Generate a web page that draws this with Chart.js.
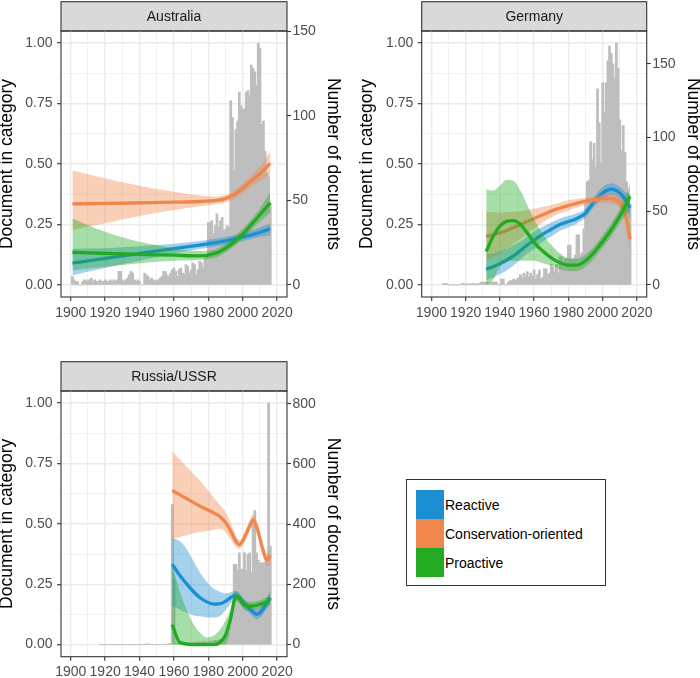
<!DOCTYPE html>
<html>
<head>
<meta charset="utf-8">
<script src="https://cdn.jsdelivr.net/npm/chart.js@4.4.1/dist/chart.umd.min.js"></script>
<style>
html,body{margin:0;padding:0;background:#fff;width:700px;height:678px;overflow:hidden;}
canvas{position:absolute;}
#legend{position:absolute;left:406px;top:479px;width:198px;height:105px;border:1px solid #333;background:#fff;
  font-family:"Liberation Sans",Arial,Helvetica,sans-serif;font-size:14px;color:#000;}
.row{position:absolute;left:9px;height:29px;display:flex;align-items:center;white-space:nowrap;}
.sw{width:28px;height:29px;margin-right:1px;}
</style>
</head>
<body>
<canvas id="cA" width="350" height="330" style="left:0;top:0"></canvas>
<canvas id="cB" width="350" height="330" style="left:350px;top:0"></canvas>
<canvas id="cC" width="350" height="338" style="left:0;top:340px"></canvas>
<div id="legend"></div>
<script>
// ---------- categories / ticks ----------
const seriesNames = ['Reactive', 'Conservation-oriented', 'Proactive'];
const panelNames = ['Australia', 'Germany', 'Russia/USSR'];
const xTickYears = [1900, 1920, 1940, 1960, 1980, 2000, 2020];
const xMinorYears = [1910, 1930, 1950, 1970, 1990, 2010];
const yTickValues = [0, 0.25, 0.5, 0.75, 1];
const yMinorValues = [0.125, 0.375, 0.625, 0.875];
const ausCountTicks = [0, 50, 100, 150];
const gerCountTicks = [0, 50, 100, 150];
const rusCountTicks = [0, 200, 400, 600, 800];

// ---------- Australia ----------
const ausCountStart = 1901;
const ausCounts = [5,3,2,2,0,0,2,3,2,3, 3,4,2,3,2,2,3,2,2,3, 2,2,3,2,3,2,3,8,8,3,
  2,3,4,6,8,7,3,2,3,2, 0,0,7,6,5,3,4,3,2,3, 3,4,5,8,8,6,5,7,9,10,
  8,5,9,10,7,6,12,11,7,9, 13,12,6,9,14,13,10,16,17,37, 37,38,30,35,42,34,38,40,32,33,
  35,34,109,99,68,92,97,114,106,104, 104,114,115,112,130,128,126,118,143,140, 95,97,79,66,64,48];
const ausYears = [1901, 1920, 1940, 1960, 1975, 1985, 1990, 1995, 2000, 2005, 2010, 2016];
const ausReactive   = [0.09, 0.11, 0.13, 0.15, 0.165, 0.176, 0.182, 0.19, 0.198, 0.207, 0.217, 0.232];
const ausReactiveLo = [0.04, 0.07, 0.1, 0.13, 0.148, 0.16, 0.166, 0.174, 0.182, 0.19, 0.198, 0.205];
const ausReactiveHi = [0.15, 0.152, 0.16, 0.17, 0.182, 0.192, 0.198, 0.206, 0.215, 0.225, 0.237, 0.256];
const ausConservation   = [0.335, 0.337, 0.339, 0.342, 0.345, 0.35, 0.357, 0.373, 0.4, 0.43, 0.46, 0.503];
const ausConservationLo = [0.228, 0.255, 0.285, 0.31, 0.325, 0.335, 0.342, 0.356, 0.38, 0.407, 0.43, 0.452];
const ausConservationHi = [0.473, 0.44, 0.41, 0.385, 0.37, 0.366, 0.372, 0.39, 0.42, 0.453, 0.49, 0.552];
const ausProactive   = [0.135, 0.13, 0.126, 0.123, 0.12, 0.133, 0.152, 0.178, 0.21, 0.25, 0.29, 0.34];
const ausProactiveLo = [0.06, 0.075, 0.09, 0.1, 0.103, 0.115, 0.135, 0.16, 0.192, 0.228, 0.262, 0.298];
const ausProactiveHi = [0.275, 0.22, 0.178, 0.152, 0.14, 0.15, 0.17, 0.198, 0.232, 0.272, 0.315, 0.385];

// ---------- Germany ----------
const gerCountStart = 1907;
const gerCounts = [1,1,1,0,0,0,0,0,0,0, 0,1,1,0,1,0,1,1,1,0, 1,1,2,2,2,2,2,1,2,2,
  2,2,0,0,4,4,0,0,2,3, 3,4,3,4,5,7,5,8,6,9, 5,8,6,10,4,7,10,4,5,11,
  11,7,8,14,12,9,14,8,19,19, 12,18,18,27,27,17,18,20,34,34, 20,22,38,56,70,71,97,85,96,80,
  133,110,83,137,117,137,152,162,157,150, 140,164,147,112,91,108,90,70,62,55];
const gerYears = [1932, 1936, 1940, 1944, 1948, 1952, 1956, 1960, 1965, 1970, 1975, 1980, 1985, 1990, 1995, 2000, 2005, 2010, 2013, 2016];
const gerReactive   = [0.065, 0.075, 0.088, 0.103, 0.12, 0.142, 0.165, 0.185, 0.21, 0.23, 0.25, 0.262, 0.275, 0.297, 0.345, 0.38, 0.396, 0.38, 0.355, 0.32];
const gerReactiveLo = [0.02, 0.03, 0.045, 0.06, 0.08, 0.105, 0.13, 0.15, 0.178, 0.2, 0.223, 0.238, 0.254, 0.278, 0.322, 0.355, 0.372, 0.355, 0.325, 0.27];
const gerReactiveHi = [0.13, 0.13, 0.14, 0.15, 0.165, 0.18, 0.2, 0.22, 0.24, 0.258, 0.275, 0.285, 0.296, 0.315, 0.365, 0.405, 0.42, 0.405, 0.385, 0.37];
const gerConservation   = [0.2, 0.207, 0.215, 0.225, 0.237, 0.25, 0.262, 0.275, 0.29, 0.305, 0.318, 0.328, 0.338, 0.346, 0.352, 0.357, 0.357, 0.34, 0.3, 0.19];
const gerConservationLo = [0.1, 0.115, 0.13, 0.15, 0.17, 0.19, 0.213, 0.233, 0.258, 0.28, 0.296, 0.308, 0.32, 0.332, 0.338, 0.34, 0.337, 0.317, 0.26, 0.135];
const gerConservationHi = [0.303, 0.3, 0.298, 0.3, 0.303, 0.305, 0.31, 0.315, 0.322, 0.33, 0.34, 0.35, 0.356, 0.36, 0.368, 0.375, 0.378, 0.365, 0.34, 0.25];
const gerProactive   = [0.138, 0.2, 0.243, 0.263, 0.266, 0.25, 0.215, 0.175, 0.14, 0.112, 0.092, 0.082, 0.082, 0.1, 0.135, 0.18, 0.228, 0.285, 0.322, 0.366];
const gerProactiveLo = [0.0, 0.02, 0.075, 0.095, 0.1, 0.1, 0.1, 0.1, 0.09, 0.08, 0.065, 0.058, 0.058, 0.075, 0.11, 0.155, 0.2, 0.255, 0.285, 0.31];
const gerProactiveHi = [0.395, 0.39, 0.41, 0.435, 0.43, 0.39, 0.33, 0.27, 0.21, 0.165, 0.13, 0.11, 0.108, 0.125, 0.16, 0.205, 0.255, 0.315, 0.36, 0.42];

// ---------- Russia/USSR ----------
const rusCountStart = 1917;
const rusCounts = [2,0,0,0,0,0,0,0,0,0, 0,0,0,0,0,0,0,0,0,0, 0,0,0,0,0,0,0,3,3,0,
  0,0,0,0,0,0,0,2,2,0, 3,4,465,215,5,4,6,5,4,6, 5,7,6,6,8,7,6,9,8,7,
  10,9,8,10,9,12,11,14,12,15, 18,20,24,30,35,40,60,120,267,267,
  250,305,250,250,305,245,300,305,240,420, 445,305,280,272,272,272,272,280,802,327];
const rusYears = [1959, 1963, 1967, 1971, 1975, 1979, 1983, 1987, 1990, 1993, 1996, 1998, 2000, 2003, 2006, 2008, 2010, 2012, 2014, 2016];
const rusReactive   = [0.333, 0.29, 0.255, 0.222, 0.195, 0.177, 0.168, 0.17, 0.18, 0.195, 0.205, 0.195, 0.177, 0.155, 0.135, 0.125, 0.132, 0.15, 0.172, 0.195];
const rusReactiveLo = [0.16, 0.145, 0.133, 0.122, 0.117, 0.113, 0.112, 0.12, 0.142, 0.17, 0.187, 0.177, 0.158, 0.137, 0.115, 0.105, 0.112, 0.128, 0.148, 0.165];
const rusReactiveHi = [0.44, 0.43, 0.4, 0.35, 0.3, 0.26, 0.232, 0.218, 0.212, 0.217, 0.223, 0.213, 0.195, 0.173, 0.153, 0.145, 0.152, 0.172, 0.195, 0.225];
const rusConservation   = [0.638, 0.622, 0.606, 0.59, 0.574, 0.56, 0.546, 0.528, 0.505, 0.47, 0.428, 0.414, 0.43, 0.475, 0.515, 0.49, 0.44, 0.385, 0.35, 0.37];
const rusConservationLo = [0.436, 0.445, 0.452, 0.46, 0.466, 0.47, 0.476, 0.48, 0.465, 0.435, 0.405, 0.397, 0.41, 0.455, 0.49, 0.465, 0.415, 0.36, 0.325, 0.33];
const rusConservationHi = [0.8, 0.77, 0.74, 0.71, 0.68, 0.645, 0.61, 0.575, 0.548, 0.505, 0.452, 0.432, 0.45, 0.497, 0.54, 0.515, 0.465, 0.41, 0.377, 0.405];
const rusProactive   = [0.083, 0.012, 0.003, 0, 0, 0, 0, 0.01, 0.04, 0.11, 0.2, 0.19, 0.17, 0.158, 0.16, 0.163, 0.167, 0.172, 0.178, 0.188];
const rusProactiveLo = [0, 0, 0, 0, 0, 0, 0, 0, 0, 0.07, 0.18, 0.17, 0.15, 0.14, 0.143, 0.146, 0.15, 0.155, 0.16, 0.168];
const rusProactiveHi = [0.33, 0.23, 0.15, 0.09, 0.05, 0.03, 0.037, 0.065, 0.1, 0.15, 0.22, 0.21, 0.19, 0.176, 0.177, 0.18, 0.184, 0.19, 0.197, 0.21];

// ---------- styling ----------
const FONT = '"Liberation Sans", Arial, Helvetica, sans-serif';
const seriesColors = ['#1b8fd1', '#ef874c', '#23aa23'];
const X_MIN = 1894.35, X_MAX = 2025.7;

function pts(xs, ys) { return xs.map((x, i) => ({ x: x, y: ys[i] })); }
function rgba(hex, a) {
  const n = parseInt(hex.slice(1), 16);
  return 'rgba(' + (n >> 16) + ',' + ((n >> 8) & 255) + ',' + (n & 255) + ',' + a + ')';
}

const stripPlugin = {
  id: 'strip',
  beforeDraw(chart) {
    const ca = chart.chartArea, ctx = chart.ctx;
    ctx.save();
    ctx.fillStyle = '#d9d9d9';
    ctx.fillRect(ca.left, ca.top - 29.3, ca.right - ca.left, 29.3);
    ctx.strokeStyle = '#333';
    ctx.lineWidth = 1.1;
    ctx.strokeRect(ca.left, ca.top - 29.3, ca.right - ca.left, 29.3);
    ctx.restore();
  },
  afterDraw(chart) {
    const ca = chart.chartArea, ctx = chart.ctx;
    ctx.save();
    ctx.strokeStyle = '#333';
    ctx.lineWidth = 1.1;
    ctx.strokeRect(ca.left, ca.top, ca.right - ca.left, ca.bottom - ca.top);
    ctx.restore();
  }
};

function build(id, p) {
  const maxCount = Math.max.apply(null, p.counts);
  const datasets = [];
  p.series.forEach(function (s, k) {
    const col = seriesColors[k];
    const ord = (3 - k) * 2;
    datasets.push({ type: 'line', label: seriesNames[k] + ' upper', data: pts(p.years, s.hi), yAxisID: 'y',
      borderWidth: 0, pointRadius: 0, fill: '+1', backgroundColor: rgba(col, 0.4),
      cubicInterpolationMode: 'monotone', order: ord });
    datasets.push({ type: 'line', label: seriesNames[k] + ' lower', data: pts(p.years, s.lo), yAxisID: 'y',
      borderWidth: 0, pointRadius: 0, fill: false, cubicInterpolationMode: 'monotone', order: ord });
    datasets.push({ type: 'line', label: seriesNames[k], data: pts(p.years, s.mid), yAxisID: 'y',
      borderWidth: 3.3, borderColor: col, pointRadius: 0, fill: false,
      cubicInterpolationMode: 'monotone', order: ord - 1 });
  });
  datasets.push({ type: 'bar', label: 'Number of documents',
    data: p.counts.map(function (c, i) { return { x: p.countStart + i, y: c }; }),
    yAxisID: 'y2', backgroundColor: '#bebebe', barPercentage: 1.25, categoryPercentage: 1,
    inflateAmount: 0.3, order: 10 });

  const xGrid = xTickYears.concat(xMinorYears).sort(function (a, b) { return a - b; });
  const yGrid = yTickValues.concat(yMinorValues).sort(function (a, b) { return a - b; });
  const tickFont = { family: FONT, size: 14 };

  return new Chart(document.getElementById(id), {
    type: 'bar',
    data: { datasets: datasets },
    plugins: [stripPlugin],
    options: {
      responsive: false, animation: false, events: [],
      layout: { padding: 0 },
      plugins: {
        legend: { display: false }, tooltip: { enabled: false },
        title: { display: true, text: p.name, fullSize: false, color: '#1a1a1a',
          font: { family: FONT, size: 14, weight: 'normal', lineHeight: 1.2 },
          padding: { top: p.stripPadT, bottom: p.stripPadB } }
      },
      scales: {
        x: {
          type: 'linear', min: X_MIN, max: X_MAX, offset: false, bounds: 'data',
          afterBuildTicks: function (s) { s.ticks = xGrid.map(function (v) { return { value: v }; }); },
          afterFit: function (s) { s.height = p.xAxisH; },
          ticks: { autoSkip: false, maxRotation: 0, minRotation: 0, padding: 3.5, color: '#4d4d4d', font: tickFont,
            callback: function (v) { return xTickYears.indexOf(v) >= 0 ? String(v) : ''; } },
          grid: { offset: false, color: '#ebebeb', tickLength: 4, tickWidth: 1.1,
            lineWidth: function (c) { return xTickYears.indexOf(c.tick.value) >= 0 ? 1.4 : 0.7; },
            tickColor: function (c) { return xTickYears.indexOf(c.tick.value) >= 0 ? '#333' : 'rgba(0,0,0,0)'; } },
          border: { display: false }
        },
        y: {
          type: 'linear', position: 'left', min: -0.05, max: 1.05, bounds: 'data',
          afterBuildTicks: function (s) { s.ticks = yGrid.map(function (v) { return { value: v }; }); },
          afterFit: function (s) { s.width = p.leftW; },
          ticks: { autoSkip: false, padding: 4.5, color: '#4d4d4d', font: tickFont,
            callback: function (v) { return yTickValues.indexOf(v) >= 0 ? v.toFixed(2) : ''; } },
          grid: { color: '#ebebeb', tickLength: 4, tickWidth: 1.1,
            lineWidth: function (c) { return yTickValues.indexOf(c.tick.value) >= 0 ? 1.4 : 0.7; },
            tickColor: function (c) { return yTickValues.indexOf(c.tick.value) >= 0 ? '#333' : 'rgba(0,0,0,0)'; } },
          border: { display: false },
          title: { display: true, text: 'Document in category', color: '#000',
            font: { family: FONT, size: 17.5, lineHeight: 1 }, padding: { top: p.titlePadL, bottom: 0 } }
        },
        y2: {
          type: 'linear', position: 'right', min: -0.05 * maxCount, max: 1.05 * maxCount, bounds: 'data',
          afterBuildTicks: function (s) { s.ticks = p.countTicks.map(function (v) { return { value: v }; }); },
          afterFit: function (s) { s.width = p.rightW; },
          ticks: { autoSkip: false, padding: 1.5, color: '#4d4d4d', font: tickFont,
            callback: function (v) { return String(v); } },
          grid: { drawOnChartArea: false, tickLength: 4, tickWidth: 1.1, tickColor: '#333', color: '#333' },
          border: { display: false },
          title: { display: true, text: 'Number of documents', color: '#000',
            font: { family: FONT, size: 17.5, lineHeight: 1 }, padding: { top: p.titlePadR, bottom: 0 } }
        }
      }
    }
  });
}

build('cA', {
  name: panelNames[0], counts: ausCounts, countStart: ausCountStart, countTicks: ausCountTicks, years: ausYears,
  series: [
    { mid: ausReactive, lo: ausReactiveLo, hi: ausReactiveHi },
    { mid: ausConservation, lo: ausConservationLo, hi: ausConservationHi },
    { mid: ausProactive, lo: ausProactiveLo, hi: ausProactiveHi }],
  leftW: 61, rightW: 63, xAxisH: 33, stripPadT: 8.75, stripPadB: 5.45, titlePadL: -1.15, titlePadR: 8.65
});
build('cB', {
  name: panelNames[1], counts: gerCounts, countStart: gerCountStart, countTicks: gerCountTicks, years: gerYears,
  series: [
    { mid: gerReactive, lo: gerReactiveLo, hi: gerReactiveHi },
    { mid: gerConservation, lo: gerConservationLo, hi: gerConservationHi },
    { mid: gerProactive, lo: gerProactiveLo, hi: gerProactiveHi }],
  leftW: 71.7, rightW: 53.3, xAxisH: 33, stripPadT: 8.75, stripPadB: 5.45, titlePadL: 7.95, titlePadR: -2.05
});
build('cC', {
  name: panelNames[2], counts: rusCounts, countStart: rusCountStart, countTicks: rusCountTicks, years: rusYears,
  series: [
    { mid: rusReactive, lo: rusReactiveLo, hi: rusReactiveHi },
    { mid: rusConservation, lo: rusConservationLo, hi: rusConservationHi },
    { mid: rusProactive, lo: rusProactiveLo, hi: rusProactiveHi }],
  leftW: 61, rightW: 63, xAxisH: 21.3, stripPadT: 28.45, stripPadB: 5.75, titlePadL: -1.75, titlePadR: 7.95
});

// legend
const legend = document.getElementById('legend');
seriesNames.forEach(function (n, k) {
  const row = document.createElement('div');
  row.className = 'row';
  row.style.top = (10 + 29 * k) + 'px';
  const sw = document.createElement('div');
  sw.className = 'sw';
  sw.style.background = seriesColors[k];
  const t = document.createElement('span');
  t.textContent = n;
  row.appendChild(sw); row.appendChild(t);
  legend.appendChild(row);
});
</script>
</body>
</html>
